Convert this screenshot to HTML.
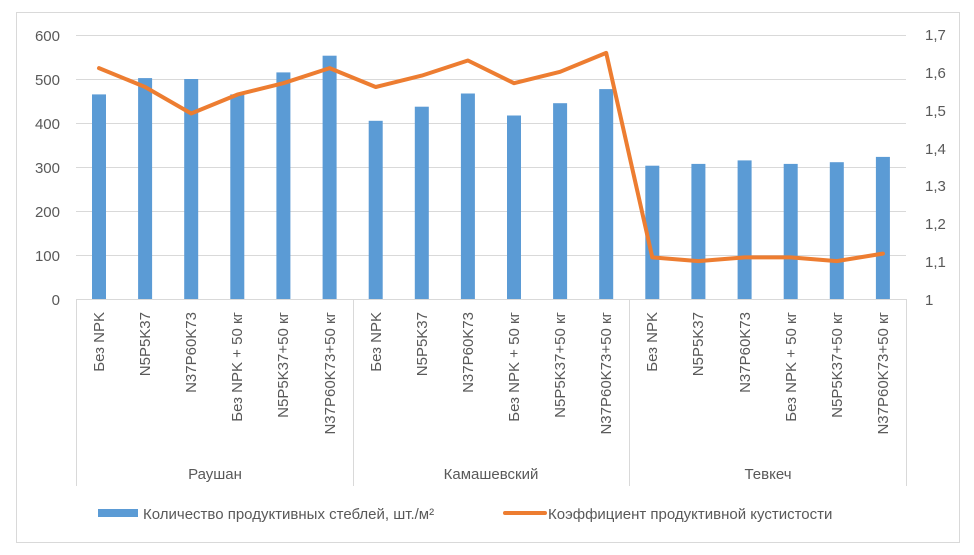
<!DOCTYPE html>
<html><head><meta charset="utf-8"><style>body{margin:0;background:#fff}svg{display:block}text{font-family:"Liberation Sans",sans-serif;fill:#595959}</style></head><body>
<svg width="974" height="555" xmlns="http://www.w3.org/2000/svg">
<rect x="16.5" y="12.5" width="943" height="530" fill="#fff" stroke="#d9d9d9"/>
<g stroke="#d9d9d9" stroke-width="1">
<line x1="76" x2="906" y1="35.5" y2="35.5"/><line x1="76" x2="906" y1="79.5" y2="79.5"/><line x1="76" x2="906" y1="123.5" y2="123.5"/><line x1="76" x2="906" y1="167.5" y2="167.5"/><line x1="76" x2="906" y1="211.5" y2="211.5"/><line x1="76" x2="906" y1="255.5" y2="255.5"/><line x1="76" x2="906" y1="299.5" y2="299.5"/>
<line x1="76.5" x2="76.5" y1="299" y2="486"/><line x1="353.5" x2="353.5" y1="299" y2="486"/><line x1="629.5" x2="629.5" y1="299" y2="486"/><line x1="906.5" x2="906.5" y1="299" y2="486"/>
</g>
<g font-size="15" text-anchor="end">
<text x="60" y="41">600</text><text x="60" y="85">500</text><text x="60" y="129">400</text><text x="60" y="173">300</text><text x="60" y="217">200</text><text x="60" y="261">100</text><text x="60" y="305">0</text>
</g>
<g font-size="15">
<text x="925" y="40">1,7</text><text x="925" y="78">1,6</text><text x="925" y="116">1,5</text><text x="925" y="154">1,4</text><text x="925" y="191">1,3</text><text x="925" y="229">1,2</text><text x="925" y="267">1,1</text><text x="925" y="305">1</text>
</g>
<g fill="#5b9bd5">
<rect x="92" y="94.4" width="14" height="204.6"/><rect x="138.1" y="78.1" width="14" height="220.9"/><rect x="184.2" y="79" width="14" height="220"/><rect x="230.3" y="94.4" width="14" height="204.6"/><rect x="276.4" y="72.4" width="14" height="226.6"/><rect x="322.6" y="55.7" width="14" height="243.3"/>
<rect x="368.7" y="120.8" width="14" height="178.2"/><rect x="414.8" y="106.7" width="14" height="192.3"/><rect x="460.9" y="93.5" width="14" height="205.5"/><rect x="507" y="115.5" width="14" height="183.5"/><rect x="553.1" y="103.2" width="14" height="195.8"/><rect x="599.2" y="89.1" width="14" height="209.9"/>
<rect x="645.3" y="165.7" width="14" height="133.3"/><rect x="691.4" y="163.9" width="14" height="135.1"/><rect x="737.6" y="160.4" width="14" height="138.6"/><rect x="783.7" y="163.9" width="14" height="135.1"/><rect x="829.8" y="162.2" width="14" height="136.8"/><rect x="875.9" y="156.9" width="14" height="142.1"/>
</g>
<polyline fill="none" stroke="#ed7d31" stroke-width="4" stroke-linejoin="round" stroke-linecap="round" points="99,68.1 145.1,87 191.2,113.5 237.3,94.6 283.4,83.2 329.6,68.1 375.7,87 421.8,75.6 467.9,60.5 514,83.2 560.1,71.8 606.2,52.9 652.3,257.4 698.4,261.1 744.6,257.4 790.7,257.4 836.8,261.1 882.9,253.6"/>
<g font-size="15" text-anchor="end">
<text transform="translate(104,312) rotate(-90)">Без NPK</text>
<text transform="translate(150,312) rotate(-90)">N5P5K37</text>
<text transform="translate(196,312) rotate(-90)">N37P60K73</text>
<text transform="translate(242,312) rotate(-90)">Без NPK + 50 кг</text>
<text transform="translate(288,312) rotate(-90)">N5P5K37+50 кг</text>
<text transform="translate(335,312) rotate(-90)">N37P60K73+50 кг</text>
<text transform="translate(381,312) rotate(-90)">Без NPK</text>
<text transform="translate(427,312) rotate(-90)">N5P5K37</text>
<text transform="translate(473,312) rotate(-90)">N37P60K73</text>
<text transform="translate(519,312) rotate(-90)">Без NPK + 50 кг</text>
<text transform="translate(565,312) rotate(-90)">N5P5K37+50 кг</text>
<text transform="translate(611,312) rotate(-90)">N37P60K73+50 кг</text>
<text transform="translate(657,312) rotate(-90)">Без NPK</text>
<text transform="translate(703,312) rotate(-90)">N5P5K37</text>
<text transform="translate(750,312) rotate(-90)">N37P60K73</text>
<text transform="translate(796,312) rotate(-90)">Без NPK + 50 кг</text>
<text transform="translate(842,312) rotate(-90)">N5P5K37+50 кг</text>
<text transform="translate(888,312) rotate(-90)">N37P60K73+50 кг</text>
</g>
<g font-size="15" text-anchor="middle">
<text x="215" y="479">Раушан</text><text x="491" y="479">Камашевский</text><text x="768" y="479">Тевкеч</text>
</g>
<rect x="98" y="509" width="40" height="8" fill="#5b9bd5"/>
<text x="143" y="519" font-size="15">Количество продуктивных стеблей, шт./м²</text>
<line x1="505" x2="545" y1="513" y2="513" stroke="#ed7d31" stroke-width="4" stroke-linecap="round"/>
<text x="548" y="519" font-size="15">Коэффициент продуктивной  кустистости</text>
</svg>
</body></html>
